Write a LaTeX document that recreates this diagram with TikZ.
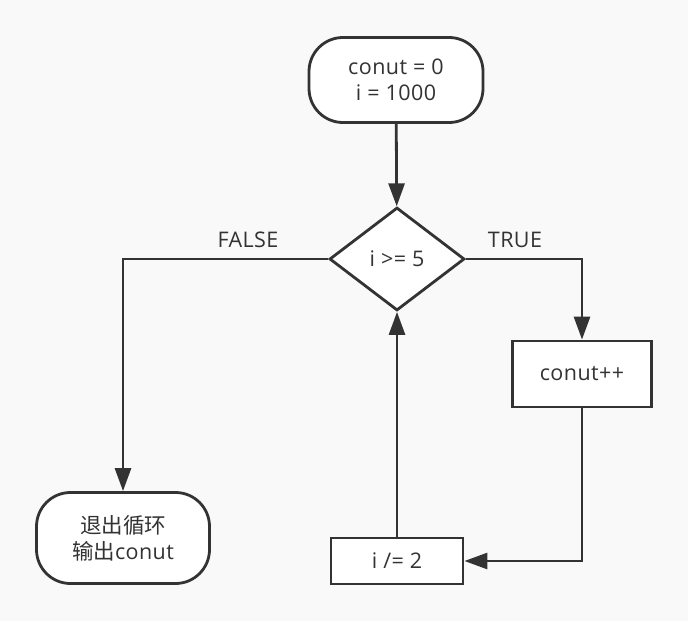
\documentclass[tikz,border=0pt]{standalone}
\usepackage{fontspec}
\setmainfont{Open Sans}[LetterSpace=2]
\newfontfamily\cjk{Noto Sans CJK SC}
\usetikzlibrary{arrows.meta,shapes.geometric}
\definecolor{ink}{HTML}{333333}
\definecolor{paper}{HTML}{F9F9F9}
\begin{document}
\begin{tikzpicture}[x=1pt,y=-1pt,
    every node/.style={text=ink,font=\fontsize{21.5}{26}\selectfont},
    term/.style={draw=ink,line width=2.8pt,fill=white,rounded corners=34pt,
      minimum width=174pt,align=center,inner sep=0pt},
    proc/.style={draw=ink,line width=2.8pt,fill=white,inner sep=0pt},
    cond/.style={draw=ink,line width=2.8pt,fill=white,diamond,aspect=1.31,
      inner sep=0pt,minimum width=135pt,minimum height=103pt},
    flow/.style={draw=ink,line width=2.8pt,-{Triangle[length=23pt,width=16pt]}},
    lbl/.style={inner sep=0pt}]
      % background
      \fill[paper] (0,0) rectangle (688,621);
      \useasboundingbox (0,0) rectangle (688,621);

      % nodes
      \node[term,minimum height=85pt] (start) at (396,80) {conut = 0\\i = 1000};
      \node[cond] (test) at (397,259) {i >= 5};
      \node[proc,minimum width=139pt,minimum height=66pt] (inc) at (582,374) {conut++};
      \node[proc,minimum width=132pt,minimum height=46pt] (half) at (397,561) {i /= 2};
      \node[term,minimum height=91pt,minimum width=173pt] (exit) at (123,538)
        {{\cjk 退出循环}\\{\cjk 输出}conut};

      % branch labels
      \node[lbl] (falselbl) at (248,240) {FALSE};
      \node[lbl] (truelbl) at (515,240) {TRUE};

      % connectors
      \draw[flow] (start) -- (test);
      \draw[flow] (test.west) -| (exit.north);
      \draw[flow] (test.east) -| (inc.north);
      \draw[flow] (inc.south) |- (half.east);
      \draw[flow] (half.north) -- (test.south);
    \end{tikzpicture}
\end{document}
